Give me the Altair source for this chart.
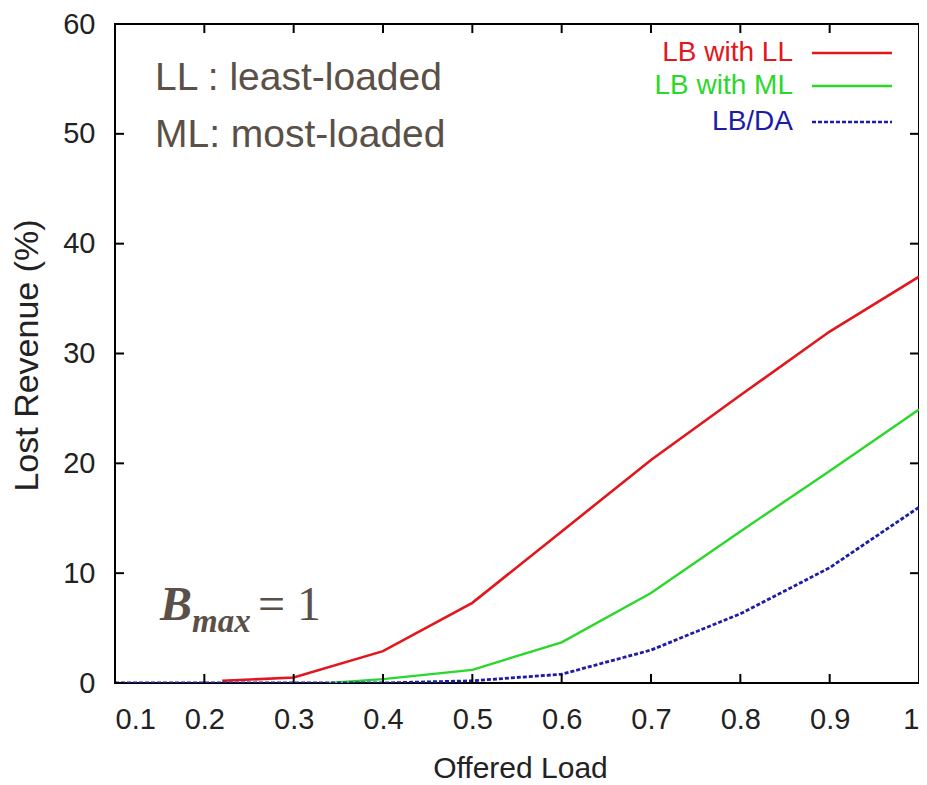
import altair as alt
import pandas as pd

# ---- data ----
load_ll = [0.22, 0.3, 0.4, 0.5, 0.6, 0.7, 0.8, 0.9, 1.0]
rev_ll = [0.2, 0.5, 2.9, 7.3, 13.8, 20.3, 26.2, 32.0, 37.0]

load_ml = [0.34, 0.4, 0.5, 0.6, 0.7, 0.8, 0.9, 1.0]
rev_ml = [0.0, 0.35, 1.2, 3.7, 8.2, 13.8, 19.3, 24.9]

load_da = [0.1, 0.2, 0.3, 0.4, 0.5, 0.6, 0.7, 0.8, 0.9, 1.0]
rev_da = [0.0, 0.0, 0.0, 0.0, 0.2, 0.8, 3.0, 6.3, 10.5, 16.0]

series_names = ["LB with LL", "LB with ML", "LB/DA"]
series_colors = ["#e3161c", "#2ad82a", "#1c1ca8"]

x_ticks = [0.1, 0.2, 0.3, 0.4, 0.5, 0.6, 0.7, 0.8, 0.9, 1.0]
y_ticks = [0, 10, 20, 30, 40, 50, 60]

x_title = "Offered Load"
y_title = "Lost Revenue (%)"
note_lines = ["LL : least-loaded", "ML: most-loaded"]
bmax_parts = ["B", "max", "= 1"]

W, H = 804, 659
TXT = "#5b5047"

x_axis = alt.Axis(
    values=x_ticks,
    labelExpr="datum.value == 1 ? '1' : format(datum.value, '.1f')",
    ticks=False, tickSize=0, domain=False, grid=False,
    labelFont="Liberation Sans", labelFontSize=29, labelColor="#222",
    labelPadding=22,
    title=x_title, titleFont="Liberation Sans", titleFontSize=30,
    titleFontWeight="normal", titleColor="#222",
    titleX=405, titleY=94, titleBaseline="alphabetic", titleAlign="center",
)
y_axis = alt.Axis(
    values=y_ticks,
    ticks=False, tickSize=0, domain=False, grid=False,
    labelFont="Liberation Sans", labelFontSize=29, labelColor="#222",
    labelPadding=20,
    title=y_title, titleFont="Liberation Sans", titleFontSize=34,
    titleFontWeight="normal", titleColor="#222",
    titleX=-88, titleY=331, titleAngle=270, titleBaseline="middle",
    titleAlign="center",
)
x_scale = alt.Scale(domain=[0.1, 1.0], nice=False, zero=False)
y_scale = alt.Scale(domain=[0, 60], nice=False)

def X():
    return alt.X("load:Q", scale=x_scale, axis=x_axis)

def Y():
    return alt.Y("rev:Q", scale=y_scale, axis=y_axis)

def series_df(xs, ys):
    return pd.DataFrame({"load": xs, "rev": ys})

layers = []
# main series lines
line_specs = [
    (load_ll, rev_ll, series_colors[0], None, 2.6),
    (load_ml, rev_ml, series_colors[1], None, 2.4),
    (load_da, rev_da, series_colors[2], [4, 2], 2.8),
]
for xs, ys, col, dash, sw in line_specs:
    kw = dict(color=col, strokeWidth=sw, clip=True)
    if dash:
        kw["strokeDash"] = dash
    layers.append(alt.Chart(series_df(xs, ys)).mark_line(**kw).encode(x=X(), y=Y()))

# inward ticks (gnuplot style), on all four sides
xt = pd.DataFrame({"load": x_ticks})
yt = pd.DataFrame({"rev": y_ticks})
tick_kw = dict(color="black", strokeWidth=2)
layers.append(alt.Chart(xt).mark_rule(**tick_kw).encode(
    x=X(), y=alt.value(H), y2=alt.value(H - 9)))
layers.append(alt.Chart(xt).mark_rule(**tick_kw).encode(
    x=X(), y=alt.value(0), y2=alt.value(9)))
layers.append(alt.Chart(yt).mark_rule(**tick_kw).encode(
    y=Y(), x=alt.value(0), x2=alt.value(9)))
layers.append(alt.Chart(yt).mark_rule(**tick_kw).encode(
    y=Y(), x=alt.value(W), x2=alt.value(W - 9)))

# legend (text right-aligned, sample line on the right)
leg_y = [29, 62, 98]
leg_dash = [None, None, [4, 2]]
for name, col, yy, dash in zip(series_names, series_colors, leg_y, leg_dash):
    layers.append(alt.Chart(pd.DataFrame({"t": [name]})).mark_text(
        align="right", baseline="middle", font="Liberation Sans", fontSize=28,
        color=col).encode(text="t:N", x=alt.value(678), y=alt.value(yy)))
    rk = dict(color=col, strokeWidth=2.5)
    if dash:
        rk["strokeDash"] = dash
    layers.append(alt.Chart(pd.DataFrame({"t": [name]})).mark_rule(**rk).encode(
        x=alt.value(697), x2=alt.value(777), y=alt.value(yy)))

# annotations
for txt, yy in zip(note_lines, [66, 123]):
    layers.append(alt.Chart(pd.DataFrame({"t": [txt]})).mark_text(
        align="left", baseline="alphabetic", font="Liberation Sans",
        fontSize=39, color=TXT).encode(text="t:N", x=alt.value(40), y=alt.value(yy)))

bmax_pos = [(45, 596, 48, "bold", "italic"), (77, 608, 33, "bold", "italic"),
            (143, 596, 48, "normal", "normal")]
for txt, (xx, yy, fs, fw, fst) in zip(bmax_parts, bmax_pos):
    layers.append(alt.Chart(pd.DataFrame({"t": [txt]})).mark_text(
        align="left", baseline="alphabetic", font="Liberation Serif",
        fontSize=fs, fontWeight=fw, fontStyle=fst, color=TXT).encode(
        text="t:N", x=alt.value(xx), y=alt.value(yy)))

chart = alt.layer(*layers).properties(
    width=W, height=H,
    autosize=alt.AutoSizeParams(type="none"),
    padding={"left": 107, "top": 16, "right": 0, "bottom": 100},
    background="white",
).configure_view(stroke="black", strokeWidth=2)

chart.save("out.html", embed_options={"renderer": "svg", "actions": False})
